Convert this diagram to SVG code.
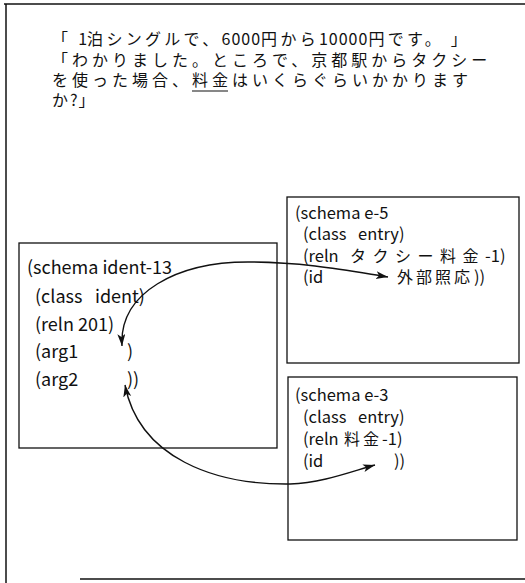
<svg xmlns="http://www.w3.org/2000/svg" width="525" height="583" viewBox="0 0 525 583">
<style>
.frame{stroke:#111;stroke-width:1.5;fill:none}
.box{stroke:#111;stroke-width:1.3;fill:none}
.jp{font-family:"Noto Sans CJK JP","Noto Sans",sans-serif;font-size:16px;fill:#111}
.s1{font-family:"Noto Sans CJK JP","Noto Sans",sans-serif;font-size:18px;fill:#111}
.s2{font-family:"Noto Sans CJK JP","Noto Sans",sans-serif;font-size:16.5px;fill:#111}
.con{stroke:#111;stroke-width:1.4;fill:none}
</style>
<defs>
<marker id="ah" markerUnits="userSpaceOnUse" markerWidth="14" markerHeight="10" refX="12" refY="4" orient="auto-start-reverse">
<path d="M0,0 L12,4 L0,8 L3,4 Z" fill="#111"/>
</marker>
</defs>
<g id="frame">
<line class="frame" x1="4" y1="4" x2="525" y2="4"/>
<line class="frame" x1="6" y1="4" x2="6" y2="583"/>
<line class="frame" x1="80" y1="579" x2="525" y2="579"/>
</g>
<g id="dialogue">
<text class="jp" x="52" y="45" letter-spacing="3.3">「 <tspan letter-spacing="0">1</tspan>泊シングルで、<tspan letter-spacing="1">6000</tspan>円から<tspan letter-spacing="1">10000</tspan>円です。 」</text>
<text class="jp" x="52" y="66" letter-spacing="4">「わかりました。ところで、京都駅からタクシー</text>
<text class="jp" x="52" y="86" letter-spacing="4">を使った場合、料金はいくらぐらいかかります</text>
<text class="jp" x="52" y="106" letter-spacing="2">か<tspan letter-spacing="1">?</tspan>」</text>
<line x1="192" y1="91" x2="228" y2="91" stroke="#111" stroke-width="1.2"/>
</g>
<g id="ident-13">
<rect class="box" x="19" y="243" width="258" height="205"/>
<text class="s1" x="27" y="274">(schema ident-13</text>
<text class="s1" x="35" y="303">(class<tspan x="95">ident)</tspan></text>
<text class="s1" x="35" y="331">(reln 201)</text>
<text class="s1" x="35" y="358">(arg1<tspan x="127">)</tspan></text>
<text class="s1" x="35" y="386">(arg2<tspan x="127">))</tspan></text>
</g>
<g id="e-5">
<rect class="box" x="287" y="197" width="232" height="166"/>
<text class="s2" x="295" y="219">(schema e-5</text>
<text class="s2" x="303" y="240">(class<tspan x="358">entry)</tspan></text>
<text class="s2" x="303" y="262">(reln<tspan x="350" font-size="16" letter-spacing="6.5">タクシー料金</tspan><tspan x="485">-1)</tspan></text>
<text class="s2" x="303" y="283">(id<tspan x="397" font-size="16" letter-spacing="3">外部照応</tspan><tspan x="474">))</tspan></text>
</g>
<g id="e-3">
<rect class="box" x="288" y="377" width="229" height="163"/>
<text class="s2" x="295" y="401">(schema e-3</text>
<text class="s2" x="303" y="423">(class<tspan x="358">entry)</tspan></text>
<text class="s2" x="303" y="445">(reln<tspan x="344" font-size="16" letter-spacing="3">料金</tspan><tspan x="382">-1)</tspan></text>
<text class="s2" x="303" y="467">(id<tspan x="394">))</tspan></text>
</g>
<g id="connectors">
<path class="con" d="M122,346 C119,292 178,262 248,262 C305,262 350,271 388,277" marker-start="url(#ah)" marker-end="url(#ah)"/>
<path class="con" d="M125,385 C139,458 215,485 290,484 C322,483 350,472 375,465" marker-start="url(#ah)" marker-end="url(#ah)"/>
</g>
</svg>
